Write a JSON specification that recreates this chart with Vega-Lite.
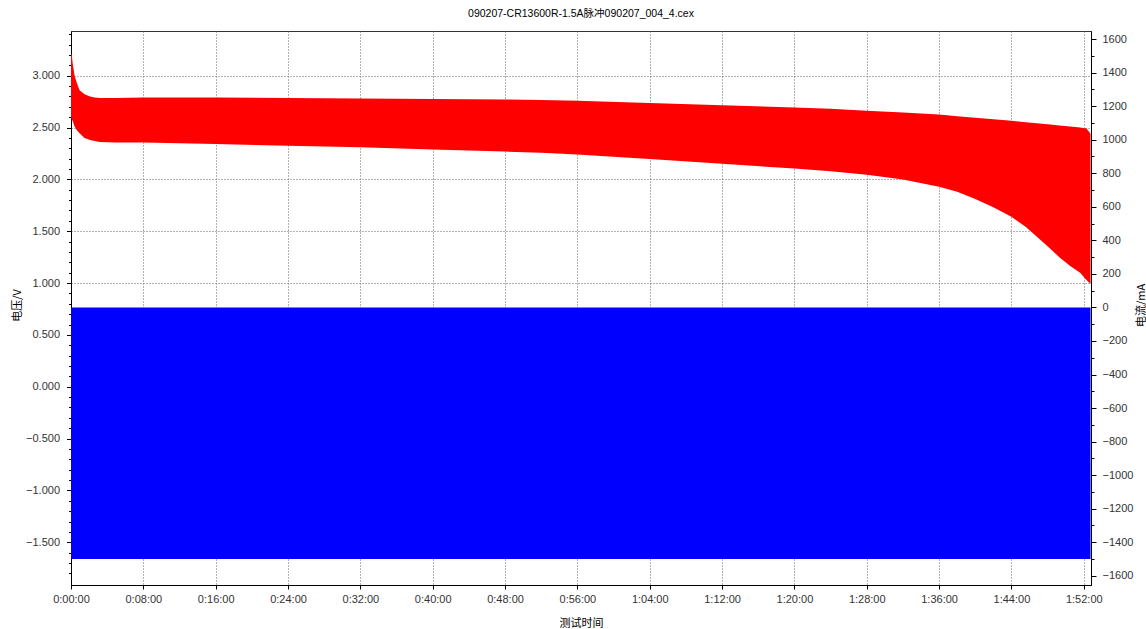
{
  "$schema": "https://vega.github.io/schema/vega-lite/v6.json",
  "width": 1020,
  "height": 554,
  "autosize": {"type": "none"},
  "padding": {"left": 71, "top": 31, "right": 55, "bottom": 44},
  "background": "white",
  "title": {
    "text": "090207-CR13600R-1.5A脉冲090207_004_4.cex",
    "font": "Liberation Sans, Noto Sans CJK SC",
    "fontSize": 10.5,
    "fontWeight": "normal",
    "color": "#000",
    "offset": 9,
    "anchor": "middle"
  },
  "config": {
    "view": {"stroke": "#333", "strokeWidth": 1},
    "axis": {
      "labelFont": "Liberation Sans",
      "labelFontSize": 11,
      "labelColor": "#333",
      "titleFont": "Noto Sans CJK SC",
      "titleFontSize": 11,
      "titleFontWeight": "normal",
      "titleColor": "#000",
      "domainColor": "#000",
      "tickColor": "#000",
      "gridColor": "#666",
      "gridDash": [1, 2],
      "gridWidth": 1,
      "labelOverlap": false,
      "labelFlush": false,
      "labelBound": false
    }
  },
  "datasets": {
    "voltage": [
      {"t": 0, "hi": 3.22, "lo": 2.6},
      {"t": 0.08, "hi": 3.2, "lo": 2.58},
      {"t": 0.2, "hi": 3.11, "lo": 2.56},
      {"t": 0.4, "hi": 3.0, "lo": 2.51},
      {"t": 0.65, "hi": 2.93, "lo": 2.475},
      {"t": 0.95, "hi": 2.86, "lo": 2.445},
      {"t": 1.5, "hi": 2.82, "lo": 2.4},
      {"t": 2.1, "hi": 2.8, "lo": 2.38},
      {"t": 2.6, "hi": 2.79, "lo": 2.37},
      {"t": 3.2, "hi": 2.785, "lo": 2.36},
      {"t": 5, "hi": 2.785, "lo": 2.355},
      {"t": 8, "hi": 2.79, "lo": 2.355},
      {"t": 16, "hi": 2.79, "lo": 2.34},
      {"t": 24, "hi": 2.785, "lo": 2.325},
      {"t": 32, "hi": 2.78, "lo": 2.31},
      {"t": 40, "hi": 2.774, "lo": 2.287},
      {"t": 48, "hi": 2.77, "lo": 2.268},
      {"t": 52, "hi": 2.766, "lo": 2.258},
      {"t": 56, "hi": 2.758, "lo": 2.24},
      {"t": 64, "hi": 2.736, "lo": 2.197},
      {"t": 72, "hi": 2.716, "lo": 2.15},
      {"t": 80, "hi": 2.694, "lo": 2.105},
      {"t": 84, "hi": 2.68, "lo": 2.078},
      {"t": 88, "hi": 2.662, "lo": 2.045},
      {"t": 92, "hi": 2.645, "lo": 2.0},
      {"t": 96, "hi": 2.625, "lo": 1.93},
      {"t": 98, "hi": 2.61, "lo": 1.88},
      {"t": 100, "hi": 2.595, "lo": 1.81},
      {"t": 102, "hi": 2.58, "lo": 1.73},
      {"t": 104, "hi": 2.565, "lo": 1.64},
      {"t": 105.6, "hi": 2.552, "lo": 1.54},
      {"t": 107.1, "hi": 2.54, "lo": 1.425},
      {"t": 108.3, "hi": 2.53, "lo": 1.33},
      {"t": 109.3, "hi": 2.52, "lo": 1.25},
      {"t": 110.5, "hi": 2.51, "lo": 1.164},
      {"t": 111.6, "hi": 2.5, "lo": 1.1},
      {"t": 112.3, "hi": 2.49, "lo": 1.03},
      {"t": 112.75, "hi": 2.44, "lo": 0.99}
    ],
    "current": [
      {"t": 0, "top": 0, "bot": -1500},
      {"t": 112.75, "top": 0, "bot": -1500}
    ]
  },
  "layer": [
    {
      "data": {"name": "current"},
      "mark": {"type": "area", "color": "#0000FF", "clip": true},
      "encoding": {
        "x": {
          "field": "t",
          "type": "quantitative",
          "scale": {"domain": [0, 112.8], "nice": false, "zero": false},
          "axis": {
            "title": "测试时间",
            "values": [0,1,2,3,4,5,6,7,8,9,10,11,12,13,14,15,16,17,18,19,20,21,22,23,24,25,26,27,28,29,30,31,32,33,34,35,36,37,38,39,40,41,42,43,44,45,46,47,48,49,50,51,52,53,54,55,56,57,58,59,60,61,62,63,64,65,66,67,68,69,70,71,72,73,74,75,76,77,78,79,80,81,82,83,84,85,86,87,88,89,90,91,92,93,94,95,96,97,98,99,100,101,102,103,104,105,106,107,108,109,110,111,112],
            "labelExpr": "datum.value % 8 === 0 ? (floor(datum.value/60) + ':' + (datum.value % 60 < 10 ? '0' : '') + (datum.value % 60) + ':00') : ''",
            "grid": true,
            "gridOpacity": {"condition": {"test": "datum.value % 8 === 0", "value": 1}, "value": 0},
            "tickSize": {"condition": {"test": "datum.value % 8 === 0", "value": 4}, "value": 2.5},
            "labelPadding": 4,
            "titleY": 38,
            "titleBaseline": "middle"
          }
        },
        "y": {
          "field": "top",
          "type": "quantitative",
          "scale": {"domain": [-1655, 1648], "nice": false, "zero": false},
          "axis": {
            "orient": "right",
            "title": "电流/mA",
            "values": [-1600,-1500,-1400,-1300,-1200,-1100,-1000,-900,-800,-700,-600,-500,-400,-300,-200,-100,0,100,200,300,400,500,600,700,800,900,1000,1100,1200,1300,1400,1500,1600],
            "labelExpr": "datum.value % 200 === 0 ? format(datum.value, 'd') : ''",
            "grid": false,
            "tickSize": {"condition": {"test": "datum.value % 200 === 0", "value": 5}, "value": 3},
            "labelPadding": 6,
            "titleX": 50,
            "titleY": 274,
            "titleAngle": -90,
            "titleBaseline": "middle",
            "titleAlign": "center"
          }
        },
        "y2": {"field": "bot"}
      }
    },
    {
      "data": {"name": "voltage"},
      "mark": {"type": "area", "color": "#FF0000", "clip": true},
      "encoding": {
        "x": {
          "field": "t",
          "type": "quantitative",
          "scale": {"domain": [0, 112.8], "nice": false, "zero": false}
        },
        "y": {
          "field": "hi",
          "type": "quantitative",
          "scale": {"domain": [-1.912, 3.431], "nice": false, "zero": false},
          "axis": {
            "orient": "left",
            "title": "电压/V",
            "values": [-1.8,-1.7,-1.6,-1.5,-1.4,-1.3,-1.2,-1.1,-1.0,-0.9,-0.8,-0.7,-0.6,-0.5,-0.4,-0.3,-0.2,-0.1,0,0.1,0.2,0.3,0.4,0.5,0.6,0.7,0.8,0.9,1.0,1.1,1.2,1.3,1.4,1.5,1.6,1.7,1.8,1.9,2.0,2.1,2.2,2.3,2.4,2.5,2.6,2.7,2.8,2.9,3.0,3.1,3.2,3.3,3.4],
            "labelExpr": "abs(datum.value*2 - round(datum.value*2)) < 1e-6 ? format(datum.value, '.3f') : ''",
            "grid": true,
            "gridOpacity": {"condition": {"test": "abs(datum.value*2 - round(datum.value*2)) < 1e-6", "value": 1}, "value": 0},
            "tickSize": {"condition": {"test": "abs(datum.value*2 - round(datum.value*2)) < 1e-6", "value": 4.5}, "value": 2.5},
            "labelPadding": 7,
            "titleX": -54,
            "titleY": 274,
            "titleAngle": -90,
            "titleBaseline": "middle",
            "titleAlign": "center"
          }
        },
        "y2": {"field": "lo"}
      }
    }
  ],
  "resolve": {"scale": {"y": "independent"}}
}
